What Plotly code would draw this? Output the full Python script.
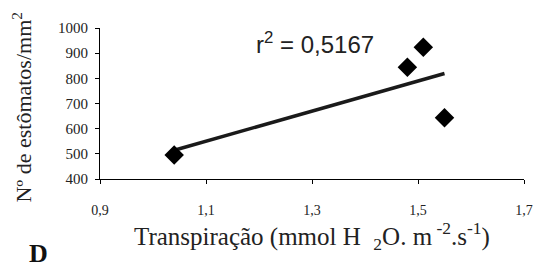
import numpy as np
import plotly.graph_objects as go

transp = [1.04, 1.48, 1.51, 1.55]
estomatos = [495, 844, 924, 643]
x_ticks = [0.9, 1.1, 1.3, 1.5, 1.7]
x_ticklabels = ["0,9", "1,1", "1,3", "1,5", "1,7"]
y_ticks = [400, 500, 600, 700, 800, 900, 1000]

slope, intercept = np.polyfit(transp, estomatos, 1)
xl = [min(transp), max(transp)]
yl = [slope * v + intercept for v in xl]

serif = "Liberation Serif, Times New Roman, serif"
sans = "Liberation Sans, Arial, sans-serif"

# page has an 8px body margin; plot area in page pixels: x 100..533, y 22..179
PX0, PX1, PY0, PY1 = 100, 533, 22, 179


def px(x):
    return (x - PX0) / (PX1 - PX0)


def py(y):
    return (PY1 - y) / (PY1 - PY0)


fig = go.Figure()
fig.add_trace(go.Scatter(x=xl, y=yl, mode="lines", line=dict(color="#1a1a1a", width=3.5), hoverinfo="skip"))
fig.add_trace(go.Scatter(x=transp, y=estomatos, mode="markers",
                         marker=dict(symbol="diamond", size=15, color="black")))

fig.update_layout(
    width=537, height=259, showlegend=False,
    font=dict(family=serif, size=15, color="#222"),
    paper_bgcolor="white", plot_bgcolor="white",
    margin=dict(l=92, r=12, t=14, b=88),
)
fig.update_xaxes(range=[0.9, 1.7], tickmode="array", tickvals=x_ticks, ticktext=x_ticklabels,
                 showgrid=False, zeroline=False, showline=True, linecolor="black", linewidth=1,
                 ticks="outside", ticklen=4, tickcolor="black",
                 tickfont=dict(family=serif, size=14, color="#222"), ticklabelstandoff=14)
fig.update_yaxes(range=[400, 1000], tickmode="array", tickvals=y_ticks,
                 showgrid=False, zeroline=False, showline=True, linecolor="black", linewidth=1,
                 ticks="outside", ticklen=4, tickcolor="black",
                 tickfont=dict(family=serif, size=15, color="#222"), ticklabelstandoff=4)
fig.add_annotation(xref="paper", yref="paper", x=px(316), y=py(238),
                   text="Transpiração (mmol H  <sub>2</sub>O. m<sup> -2</sup>.s<sup>-1</sup>)",
                   showarrow=False, font=dict(family=serif, size=25, color="#222"),
                   xanchor="center", yanchor="middle")
fig.add_annotation(xref="paper", yref="paper", x=px(20), y=py(104),
                   text="Nº de estômatos/mm<sup>2</sup>", textangle=-90,
                   showarrow=False, font=dict(family=serif, size=22, color="#222"),
                   xanchor="center", yanchor="middle")
fig.add_annotation(xref="paper", yref="paper", x=px(320), y=py(38),
                   text="r<sup>2</sup> = 0,5167", showarrow=False,
                   font=dict(family=sans, size=24, color="#222"),
                   xanchor="center", yanchor="middle")
fig.add_annotation(xref="paper", yref="paper", x=px(37), y=py(256),
                   text="<b>D</b>", showarrow=False,
                   font=dict(family=serif, size=26, color="#111"),
                   xanchor="center", yanchor="middle")
fig.write_html("out.html")
